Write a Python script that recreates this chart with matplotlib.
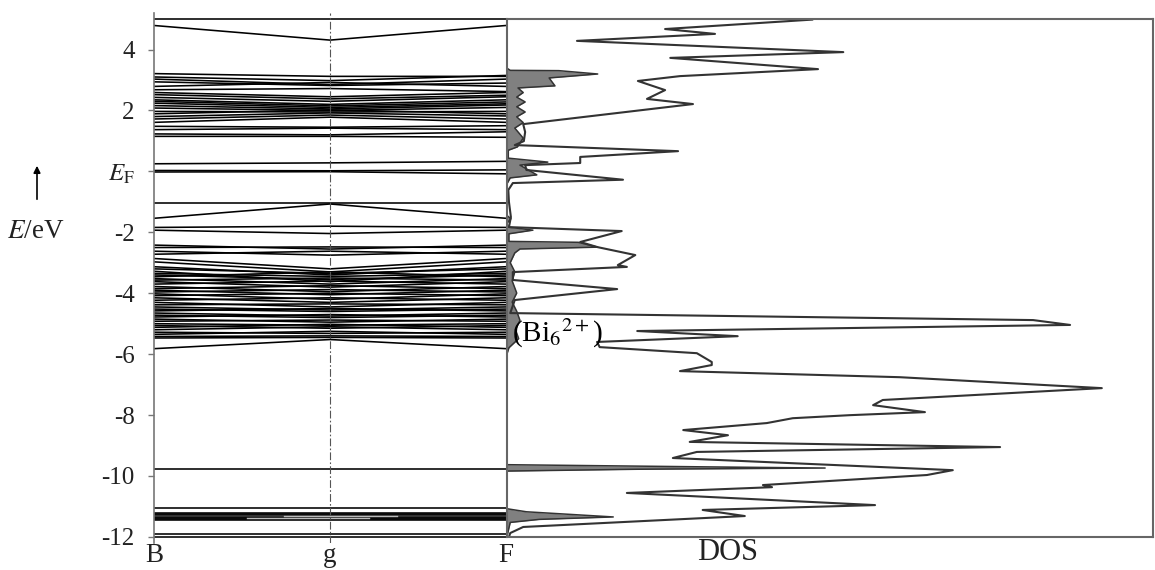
import numpy as np
import matplotlib
matplotlib.use("Agg")
import matplotlib.pyplot as plt

plt.rcParams['font.family'] = ['Liberation Serif', 'DejaVu Serif']
plt.rcParams['mathtext.fontset'] = 'stix'

# k-path labels and energy ticks
k_labels = ['B', 'g', 'F']
y_ticks = [4, 2, 0, -2, -4, -6, -8, -10, -12]
y_labels = ['4', '2', r'$E_{\mathrm{F}}$', '-2', '-4', '-6', '-8', '-10', '-12']

# bands as (E at B, E at g, E at F) in eV
bands_top = [(5.00, 5.00, 5.00), (4.79, 4.31, 4.79)]
bands_cond = [(3.21, 3.12, 3.12), (3.10, 2.98, 3.15), (3.03, 2.85, 3.03), (2.94, 2.82, 2.90),
              (2.79, 2.92, 2.79), (2.68, 2.72, 2.62), (2.59, 2.45, 2.59), (2.52, 2.38, 2.50),
              (2.43, 2.30, 2.45), (2.35, 2.20, 2.35), (2.30, 2.15, 2.28), (2.24, 2.10, 2.22),
              (2.16, 2.05, 2.18), (2.08, 2.00, 2.10), (1.97, 1.95, 1.97), (1.89, 2.02, 1.89),
              (1.80, 1.92, 1.82), (1.72, 1.85, 1.72), (1.61, 1.78, 1.61), (1.48, 1.45, 1.50),
              (1.37, 1.42, 1.37), (1.23, 1.20, 1.30), (1.15, 1.15, 1.12)]
bands_fermi = [(0.25, 0.28, 0.33), (0.03, 0.02, 0.05), (-0.02, -0.01, -0.08)]
bands_val = [(-1.03, -1.03, -1.03), (-1.54, -1.07, -1.54), (-1.84, -1.80, -1.84), (-1.93, -2.04, -1.93),
             (-2.42, -2.55, -2.42), (-2.50, -2.48, -2.50), (-2.62, -2.75, -2.62), (-2.72, -2.62, -2.72),
             (-2.86, -3.20, -2.86), (-2.97, -3.30, -2.97), (-3.13, -3.40, -3.13), (-3.20, -3.35, -3.20),
             (-3.28, -3.62, -3.28), (-3.35, -3.45, -3.35), (-3.40, -3.55, -3.40), (-3.46, -3.30, -3.46),
             (-3.52, -3.70, -3.52), (-3.57, -3.50, -3.57), (-3.62, -3.80, -3.62), (-3.70, -3.60, -3.70),
             (-3.78, -3.95, -3.78), (-3.85, -3.75, -3.85), (-3.90, -4.05, -3.90), (-3.96, -3.88, -3.96),
             (-4.02, -4.20, -4.02), (-4.08, -4.00, -4.08), (-4.15, -4.30, -4.15), (-4.23, -4.15, -4.23),
             (-4.30, -4.45, -4.30), (-4.38, -4.35, -4.38), (-4.45, -4.55, -4.45), (-4.52, -4.60, -4.52),
             (-4.58, -4.50, -4.58), (-4.65, -4.75, -4.65), (-4.72, -4.80, -4.72), (-4.78, -4.70, -4.78),
             (-4.85, -4.95, -4.85), (-4.92, -4.88, -4.92), (-5.00, -5.05, -5.00), (-5.06, -5.15, -5.06),
             (-5.12, -5.02, -5.12), (-5.20, -5.10, -5.20), (-5.28, -5.32, -5.28), (-5.35, -5.25, -5.35),
             (-5.42, -5.40, -5.42), (-5.47, -5.45, -5.47), (-5.82, -5.52, -5.82)]
bands_deep = [(-9.76, -9.76, -9.76), (-11.05, -11.05, -11.05), (-11.21, -11.21, -11.21),
              (-11.25, -11.25, -11.25), (-11.29, -11.29, -11.29), (-11.33, -11.33, -11.33),
              (-11.37, -11.37, -11.37), (-11.41, -11.41, -11.41), (-11.45, -11.45, -11.45),
              (-11.90, -11.90, -11.90), (-12.00, -12.00, -12.00)]
# light streaks inside the deep block: (k start, k end, E)
deep_streaks = [(0.74, 1.38, -11.31), (0.53, 1.22, -11.39)]

# total DOS as (E, DOS) pairs, arbitrary units
dos_total = [(5.00, 47.1), (4.69, 24.4), (4.53, 32.1), (4.30, 10.8), (3.93, 51.9), (3.74, 25.2),
             (3.37, 48.0), (3.14, 26.7), (2.98, 20.2), (2.68, 24.4), (2.39, 21.6), (2.22, 28.7),
             (1.56, 2.5), (1.30, 2.8), (1.00, 2.6), (0.87, 1.2), (0.67, 26.4), (0.48, 11.3),
             (0.28, 11.3), (0.21, 2.8), (0.05, 3.0), (-0.27, 17.9), (-0.38, 0.9), (-0.61, 0.2),
             (-1.00, 0.3), (-1.50, 0.6), (-1.83, 0.3), (-1.96, 17.7), (-2.32, 11.3), (-2.49, 14.0),
             (-2.75, 19.8), (-3.08, 17.1), (-3.14, 18.5), (-3.31, 0.9), (-3.57, 0.9), (-3.87, 17.0),
             (-4.23, 1.2), (-4.66, 0.5), (-4.89, 81.2), (-5.05, 86.9), (-5.25, 20.1), (-5.42, 35.6),
             (-5.61, 13.9), (-5.78, 14.3), (-5.98, 29.3), (-6.27, 31.6), (-6.37, 31.6), (-6.57, 26.7),
             (-6.77, 60.6), (-7.13, 91.8), (-7.52, 58.0), (-7.69, 56.5), (-7.92, 64.5), (-8.02, 52.9),
             (-8.12, 44.1), (-8.28, 40.1), (-8.51, 27.2), (-8.68, 34.1), (-8.90, 28.2), (-9.07, 76.1),
             (-9.23, 29.3), (-9.43, 25.6), (-9.83, 68.8), (-9.99, 64.8), (-10.32, 39.5), (-10.39, 40.9),
             (-10.58, 18.5), (-10.98, 56.8), (-11.14, 30.2), (-11.34, 36.7), (-11.70, 2.5),
             (-11.90, 0.5), (-12.03, 0.3)]

# Bi6(2+) partial DOS as (E, DOS) pairs
dos_bi = [(3.40, 0.0), (3.33, 0.5), (3.32, 8.0), (3.21, 14.0), (3.08, 6.5), (2.82, 7.4), (2.75, 1.7),
          (2.60, 2.5), (2.45, 1.5), (2.29, 2.8), (2.13, 1.5), (1.96, 2.8), (1.80, 1.5), (1.61, 2.5),
          (1.43, 1.2), (1.10, 2.5), (0.81, 1.6), (0.70, 0.2), (0.44, 0.2), (0.31, 6.3), (0.21, 2.0),
          (-0.11, 4.6), (-0.21, 0.5), (-0.40, 0.0), (-1.45, 0.0), (-1.55, 0.6), (-1.70, 0.0),
          (-1.83, 0.2), (-1.93, 4.0), (-2.05, 0.3), (-2.30, 0.3), (-2.33, 11.0), (-2.49, 14.0),
          (-2.55, 2.0), (-2.68, 1.2), (-3.00, 0.5), (-3.30, 1.2), (-3.60, 0.8), (-4.00, 1.5),
          (-4.30, 0.8), (-4.60, 1.5), (-4.90, 2.0), (-5.20, 1.3), (-5.50, 1.8), (-5.80, 0.3),
          (-6.00, 0.0), (-9.65, 0.0), (-9.72, 30.0), (-9.76, 49.1), (-9.80, 20.0), (-9.86, 0.0),
          (-11.10, 0.0), (-11.20, 3.0), (-11.37, 16.4), (-11.45, 5.0), (-11.55, 0.5), (-12.00, 0.0)]

W, H = 1155, 570
fig = plt.figure(figsize=(W / 100, H / 100), dpi=100)

# band structure panel
ax = fig.add_axes([154 / W, 27 / H, 352 / W, 530 / H])
kx = [0, 1, 2]
for b in bands_top + bands_cond + bands_fermi + bands_val + bands_deep:
    ax.plot(kx, b, color='black', lw=1.15, solid_capstyle='butt')
for k0, k1, e in deep_streaks:
    ax.plot([k0, k1], [e, e], color='#bbbbbb', lw=1.0)
ax.axvline(1, color='#555555', lw=0.8, ls=(0, (7, 2, 1.5, 2)))
ax.set_xlim(0, 2)
ax.set_ylim(-12.2, 5.2)
for s in ['top', 'right', 'bottom']:
    ax.spines[s].set_visible(False)
ax.spines['left'].set_color('#777777')
ax.spines['left'].set_linewidth(1.2)
ax.set_yticks(y_ticks, y_labels)
ax.tick_params(axis='y', direction='out', length=4, width=1, color='#777777', pad=10,
               labelsize=18, labelcolor='#222222')
ax.set_xticks(kx, k_labels)
ax.tick_params(axis='x', length=0, pad=0, labelsize=19.5, labelcolor='#222222')

# DOS panel
ax2 = fig.add_axes([507 / W, 33 / H, 646 / W, 518 / H])
Et, dt = np.array(dos_total).T
Eb, db = np.array(dos_bi).T
ax2.fill_betweenx(Eb, 0, db, color='#808080', lw=0)
ax2.plot(db, Eb, color='#333333', lw=1.1)
ax2.plot(dt, Et, color='#333333', lw=1.5)
ax2.set_xlim(0, 99.7)
ax2.set_ylim(-12.03, 5.02)
ax2.set_xticks([])
ax2.set_yticks([])
for s in ax2.spines.values():
    s.set_color('#666666')
    s.set_linewidth(1.5)
ax2.text(0.8, -5.32, r'(Bi$_6$$^{2+}$)', fontsize=21, va='center', ha='left')

fig.text(728 / W, 1 - 553 / H, 'DOS', ha='center', va='center', fontsize=22, color='#222222')
fig.text(36 / W, 1 - 232 / H, r'$E$/eV', ha='center', va='center', fontsize=19.5, color='#222222')
ax.annotate('', xy=(37 / W, 1 - 163 / H), xytext=(37 / W, 1 - 202 / H),
            xycoords='figure fraction', textcoords='figure fraction', annotation_clip=False,
            arrowprops=dict(arrowstyle='-|>', lw=1.2, color='black', mutation_scale=10))

fig.savefig('out.png', dpi=100)
